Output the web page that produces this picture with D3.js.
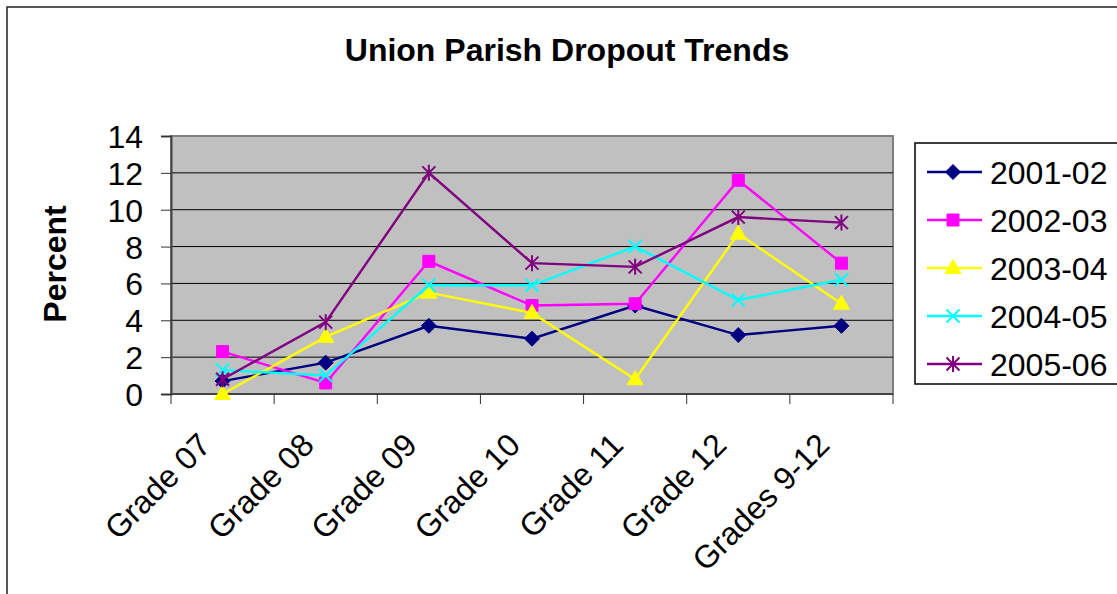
<!DOCTYPE html>
<html>
<head>
<meta charset="utf-8">
<script src="https://cdn.jsdelivr.net/npm/d3@7"></script>
<style>
  body { margin: 0; background: #fff; }
  svg { display: block; font-family: "Liberation Sans", Arial, sans-serif; }
</style>
</head>
<body>
<svg id="vis-svg" width="1117" height="594"></svg>
<script>
// chart data
var grades = ["Grade 07", "Grade 08", "Grade 09", "Grade 10", "Grade 11", "Grade 12", "Grades 9-12"];
var years = ["2001-02", "2002-03", "2003-04", "2004-05", "2005-06"];
var y2001 = [0.7, 1.7, 3.7, 3.0, 4.8, 3.2, 3.7];
var y2002 = [2.3, 0.6, 7.2, 4.8, 4.9, 11.6, 7.1];
var y2003 = [0.0, 3.1, 5.5, 4.4, 0.8, 8.7, 4.9];
var y2004 = [1.3, 1.0, 5.9, 5.9, 8.0, 5.1, 6.2];
var y2005 = [0.8, 3.9, 12.0, 7.1, 6.9, 9.6, 9.3];
var yTicks = [0, 2, 4, 6, 8, 10, 12, 14];

var colors = ["#000080", "#ff00ff", "#ffff00", "#00ffff", "#800080"];
var markers = ["diamond", "square", "triangle", "x", "star"];
var seriesValues = [y2001, y2002, y2003, y2004, y2005];

var series = years.map(function(y, i){
  return { name: y, values: seriesValues[i], color: colors[i], marker: markers[i] };
});

var plot = { left: 171, top: 136, right: 893, bottom: 394 };
var fontSize = "32px";

var svg = d3.select("#vis-svg");

// outer chart border (cropped on right / bottom)
svg.append("rect")
  .attr("x", 7).attr("y", 7)
  .attr("width", 1200).attr("height", 700)
  .attr("fill", "none")
  .attr("stroke", "#222")
  .attr("stroke-width", 1.5);

svg.append("text")
  .attr("x", 567).attr("y", 61)
  .attr("text-anchor", "middle")
  .style("font-size", fontSize)
  .style("font-weight", "bold")
  .text("Union Parish Dropout Trends");

var x = d3.scaleBand()
  .domain(grades)
  .range([plot.left, plot.right]);

var y = d3.scaleLinear()
  .domain([0, 14])
  .range([plot.bottom, plot.top]);

// plot area
svg.append("rect")
  .attr("x", plot.left).attr("y", plot.top)
  .attr("width", plot.right - plot.left)
  .attr("height", plot.bottom - plot.top)
  .attr("fill", "#c0c0c0")
  .attr("stroke", "#808080")
  .attr("stroke-width", 2);

// gridlines
svg.append("g").selectAll("line")
  .data(yTicks.filter(function(d){ return d > 0 && d < 14; }))
  .enter().append("line")
  .attr("x1", plot.left).attr("x2", plot.right)
  .attr("y1", function(d){ return y(d); })
  .attr("y2", function(d){ return y(d); })
  .attr("stroke", "#000")
  .attr("stroke-width", 1);

// y axis
var yAxis = svg.append("g")
  .attr("transform", "translate(" + plot.left + ",0)")
  .call(d3.axisLeft(y).tickValues(yTicks).tickSize(10).tickPadding(18));
yAxis.select(".domain").attr("stroke", "#444").attr("stroke-width", 2);
yAxis.selectAll(".tick line").attr("stroke", "#333");
yAxis.selectAll("text")
  .style("font-size", fontSize)
  .attr("fill", "#000")
  .attr("dy", "0.36em")
  .attr("font-family", null);

// x axis line and ticks at category boundaries
svg.append("line")
  .attr("x1", plot.left).attr("x2", plot.right)
  .attr("y1", plot.bottom).attr("y2", plot.bottom)
  .attr("stroke", "#444").attr("stroke-width", 2);

var bounds = grades.map(function(g){ return x(g); }).concat([plot.right]);
svg.append("g").selectAll("line")
  .data(bounds)
  .enter().append("line")
  .attr("x1", function(d){ return d; })
  .attr("x2", function(d){ return d; })
  .attr("y1", plot.bottom).attr("y2", plot.bottom + 10)
  .attr("stroke", "#333");

svg.append("g").selectAll("text")
  .data(grades)
  .enter().append("text")
  .attr("transform", function(d){
    return "translate(" + (x(d) + x.bandwidth() / 2 - 10) + "," + (plot.bottom + 53) + ") rotate(-45)";
  })
  .attr("text-anchor", "end")
  .style("font-size", fontSize)
  .text(function(d){ return d; });

// y axis title
svg.append("text")
  .attr("transform", "translate(66,264) rotate(-90)")
  .attr("text-anchor", "middle")
  .style("font-size", fontSize)
  .style("font-weight", "bold")
  .text("Percent");

// marker shapes
function markerPath(type){
  switch(type){
    case "diamond": return "M0,-7.5L7.5,0L0,7.5L-7.5,0Z";
    case "square": return "M-6,-6H6V6H-6Z";
    case "triangle": return "M0,-8.5L8,5.5H-8Z";
    case "x": return "M-6.5,-6.5L6.5,6.5M6.5,-6.5L-6.5,6.5";
    case "star": return "M-6.5,-6.5L6.5,6.5M6.5,-6.5L-6.5,6.5M0,-8V8";
  }
}

function drawMarker(sel, s){
  var filled = (s.marker === "diamond" || s.marker === "square" || s.marker === "triangle");
  sel.attr("d", markerPath(s.marker))
    .attr("fill", filled ? s.color : "none")
    .attr("stroke", s.color)
    .attr("stroke-width", filled ? 1 : 2);
}

var line = d3.line()
  .x(function(d, i){ return x(grades[i]) + x.bandwidth() / 2; })
  .y(function(d){ return y(d); });

var lines = svg.append("g");
series.forEach(function(s){
  var g = lines.append("g");
  g.append("path")
    .datum(s.values)
    .attr("d", line)
    .attr("fill", "none")
    .attr("stroke", s.color)
    .attr("stroke-width", 2.4);
  g.selectAll("path.m")
    .data(s.values)
    .enter().append("path")
    .attr("class", "m")
    .attr("transform", function(d, i){
      return "translate(" + (x(grades[i]) + x.bandwidth() / 2) + "," + y(d) + ")";
    })
    .call(drawMarker, s);
});

// legend
var legend = svg.append("g");
legend.append("rect")
  .attr("x", 915).attr("y", 143)
  .attr("width", 260).attr("height", 241)
  .attr("fill", "#fff")
  .attr("stroke", "#000")
  .attr("stroke-width", 1.5);

var item = legend.selectAll("g.item")
  .data(series)
  .enter().append("g")
  .attr("class", "item")
  .attr("transform", function(d, i){ return "translate(0," + (172 + i * 48) + ")"; });

item.append("line")
  .attr("x1", 927).attr("x2", 982)
  .attr("stroke", function(d){ return d.color; })
  .attr("stroke-width", 2.4);

item.append("path")
  .attr("transform", "translate(953,0)")
  .each(function(d){ d3.select(this).call(drawMarker, d); });

item.append("text")
  .attr("x", 990)
  .attr("dy", "0.36em")
  .style("font-size", fontSize)
  .text(function(d){ return d.name; });
</script>
</body>
</html>
